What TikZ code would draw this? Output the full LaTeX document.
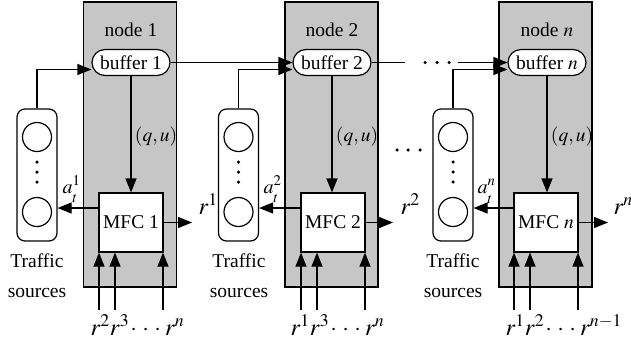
\documentclass[tikz,border=0pt]{standalone}
\usepackage{mathptmx}
\usepackage{fontspec}
\setmainfont{Liberation Serif}
\usetikzlibrary{arrows.meta}
\definecolor{nodegray}{RGB}{198,198,198}
\newcommand\spacedots{\mkern1mu{\cdot}\mkern4mu{\cdot}\mkern4mu{\cdot}\mkern3mu}
\newcommand\rate[1]{a^{#1}_{\rule{0pt}{0.7em}t}}

\begin{document}
\begin{tikzpicture}[x=1pt,y=-1pt,line width=1.2pt]
    \tikzstyle{every node}=[font=\fontsize{19.5}{23}\selectfont]
    \tikzstyle{nodebox}=[draw,fill=nodegray,minimum width=93,minimum height=285,inner sep=0]
    \tikzstyle{buf}=[draw,fill=white,rounded corners=13pt,minimum width=78,minimum height=26,inner sep=0]
    \tikzstyle{mfc}=[draw,fill=white,minimum width=64,minimum height=59,inner sep=0]
    \tikzstyle{src}=[draw,rounded corners=8pt,minimum width=40,minimum height=132,inner sep=0]
    \tikzstyle{user}=[draw,circle,minimum size=29,inner sep=0]
    \tikzstyle{smalldot}=[fill,circle,minimum size=3.5,inner sep=0]
    \tikzstyle{arr}=[-{Triangle[length=14pt,width=11pt]}]
    \tikzstyle{rlab}=[font=\fontsize{24}{28}\selectfont,anchor=base west,inner sep=0]
    \tikzstyle{alab}=[font=\fontsize{20}{24}\selectfont,anchor=base west,inner sep=0]
    \tikzstyle{srclab}=[font=\fontsize{19.5}{30}\selectfont,align=center]
    \useasboundingbox (0,0) rectangle (631,349);

    % node 1
    \draw node[nodebox](g1)at(130,144.5){}
          node(l1)at(131,30){node 1}
          node[buf](b1)at(131,62.5){buffer 1}
          node[mfc](m1)at(131,222.5){MFC 1}
          node[src](t1)at(37,175){}
          node[user](u1a)at(37,137){} node[user](u1b)at(37,212){}
          node[smalldot](d1a)at(37,162){} node[smalldot](d1b)at(37,172){}
          node[smalldot](d1c)at(37,182){}
          node[srclab](ts1)at(37,276){Traffic\\sources}
          node[alab](a1)at(62,193){$\rate{1}$}
          node[rlab](r1)at(198,214){$r^1$}
          node[rlab](in1)at(90,335){$r^2r^3\spacedots r^n$};
    \coordinate(o1)at(192,222.5);
    \coordinate(f1a)at(99,310); \coordinate(f1b)at(115,310); \coordinate(f1c)at(163,310);

    % node 2
    \draw node[nodebox](g2)at(331.5,144.5){}
          node(l2)at(332,30){node 2}
          node[buf](b2)at(332,62.5){buffer 2}
          node[mfc](m2)at(333,222.5){MFC 2}
          node[src](t2)at(238.5,175){}
          node[user](u2a)at(238.5,137){} node[user](u2b)at(238.5,212){}
          node[smalldot](d2a)at(238.5,162){} node[smalldot](d2b)at(238.5,172){}
          node[smalldot](d2c)at(238.5,182){}
          node[srclab](ts2)at(239,276){Traffic\\sources}
          node[alab](a2)at(263,193){$\rate{2}$}
          node[rlab](r2)at(400,214){$r^2$}
          node[rlab](in2)at(290,335){$r^1r^3\spacedots r^n$};
    \coordinate(o2)at(393,222.5);
    \coordinate(f2a)at(301,310); \coordinate(f2b)at(317,310); \coordinate(f2c)at(365,310);

    % node n
    \draw node[nodebox](gn)at(545.5,144.5){}
          node(ln)at(547,30){node $n$}
          node[buf](bn)at(547,62.5){buffer $n$}
          node[mfc](mn)at(546,222.5){MFC $n$}
          node[src](tn)at(453,175){}
          node[user](una)at(453,137){} node[user](unb)at(453,212){}
          node[smalldot](dna)at(453,162){} node[smalldot](dnb)at(453,172){}
          node[smalldot](dnc)at(453,182){}
          node[srclab](tsn)at(453,276){Traffic\\sources}
          node[alab](an)at(477,193){$\rate{n}$}
          node[rlab](rn)at(613,214){$r^n$}
          node[rlab](inn)at(505,335){$r^1r^2\spacedots r^{n-1}$};
    \coordinate(on)at(608,222.5);
    \coordinate(fna)at(514,310); \coordinate(fnb)at(530,310); \coordinate(fnc)at(578,310);

    % dots between the nodes
    \draw node[smalldot](h1)at(425,62.5){} node[smalldot](h2)at(437,62.5){}
          node[smalldot](h3)at(449,62.5){}
          node[smalldot](v1)at(397,150){} node[smalldot](v2)at(408,150){}
          node[smalldot](v3)at(420,150){};
    \coordinate(cut)at(405,62.5);
    \coordinate(resume)at(458,62.5);

    % buffer chain
    \draw[arr](b1)--(b2);
    \draw(b2)--(cut);
    \draw[arr](resume)--(bn);

    % node 1 links
    \draw[arr](t1.north)|-([yshift=-7pt]b1.west);
    \draw[arr](b1)--(m1)node[right,pos=0.52]{$(q,u)$};
    \draw[arr]([yshift=14.5pt]m1.west)--([yshift=14.5pt]m1.west-|t1.east);
    \draw[arr](m1.east)--(o1);
    \draw[arr](f1a)--(f1a|-m1.south);
    \draw[arr](f1b)--(f1b|-m1.south);
    \draw[arr](f1c)--(f1c|-m1.south);

    % node 2 links
    \draw[arr](t2.north)|-([yshift=-7pt]b2.west);
    \draw[arr](b2)--(m2.north-|b2)node[right,pos=0.52]{$(q,u)$};
    \draw[arr]([yshift=14.5pt]m2.west)--([yshift=14.5pt]m2.west-|t2.east);
    \draw[arr](m2.east)--(o2);
    \draw[arr](f2a)--(f2a|-m2.south);
    \draw[arr](f2b)--(f2b|-m2.south);
    \draw[arr](f2c)--(f2c|-m2.south);

    % node n links
    \draw[arr](tn.north)|-([yshift=-7pt]bn.west);
    \draw[arr](bn)--(mn.north-|bn)node[right,pos=0.52]{$(q,u)$};
    \draw[arr]([yshift=14.5pt]mn.west)--([yshift=14.5pt]mn.west-|tn.east);
    \draw[arr](mn.east)--(on);
    \draw[arr](fna)--(fna|-mn.south);
    \draw[arr](fnb)--(fnb|-mn.south);
    \draw[arr](fnc)--(fnc|-mn.south);
\end{tikzpicture}
\end{document}
